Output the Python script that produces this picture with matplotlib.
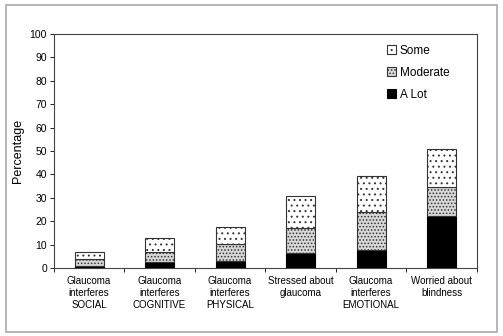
import matplotlib
matplotlib.use('Agg')

import matplotlib.pyplot as plt
from matplotlib.patches import Rectangle

plt.rcParams['font.family'] = ['Liberation Sans', 'DejaVu Sans']
plt.rcParams['hatch.linewidth'] = 0.7

categories = ["Glaucoma\ninterferes\nSOCIAL", "Glaucoma\ninterferes\nCOGNITIVE",
              "Glaucoma\ninterferes\nPHYSICAL", "Stressed about\nglaucoma",
              "Glaucoma\ninterferes\nEMOTIONAL", "Worried about\nblindness"]
a_lot = [1.0, 2.7, 3.0, 6.3, 7.7, 22.2]
moderate = [2.7, 4.3, 7.2, 10.7, 16.3, 12.5]
some = [3.1, 5.7, 7.4, 13.9, 15.3, 16.2]

fig = plt.figure(figsize=(5.03, 3.36), dpi=100)
fig.patches.append(Rectangle((0.012, 0.012), 0.976, 0.972, transform=fig.transFigure,
                             fill=False, edgecolor='#aaaaaa', linewidth=1.2))
ax = fig.add_axes([0.107, 0.202, 0.841, 0.697])

x = list(range(len(categories)))
w = 0.41
bottom2 = [a + m for a, m in zip(a_lot, moderate)]
ax.bar(x, a_lot, w, color='black', edgecolor='black', linewidth=0.8, label='A Lot')
ax.bar(x, moderate, w, bottom=a_lot, color='#d8d8d8', edgecolor='#333333',
       hatch='.....', linewidth=0.8, label='Moderate')
ax.bar(x, some, w, bottom=bottom2, color='white', edgecolor='#333333',
       hatch='...', linewidth=0.8, label='Some')

ax.set_ylim(0, 100)
ax.set_xlim(-0.5, len(categories) - 0.5)
ax.set_yticks(range(0, 101, 10))
ax.tick_params(axis='y', labelsize=7.5, length=3, width=0.6, pad=2)
ax.set_xticks(x)
ax.set_xticklabels(categories, fontsize=7)
ax.tick_params(axis='x', length=0, pad=6)
ax.set_xticks([i + 0.5 for i in range(-1, len(categories))], minor=True)
ax.tick_params(axis='x', which='minor', length=3, width=0.6)
ax.set_ylabel("Percentage", fontsize=9, labelpad=4)
for s in ax.spines.values():
    s.set_linewidth(0.8)
    s.set_color('#444444')

h, l = ax.get_legend_handles_labels()
ax.legend(h[::-1], l[::-1], loc='upper right', frameon=False, fontsize=8.5,
          handlelength=0.8, handleheight=0.8, handletextpad=0.3,
          labelspacing=0.85, bbox_to_anchor=(0.96, 1.0))

plt.savefig("out.png", dpi=100)
